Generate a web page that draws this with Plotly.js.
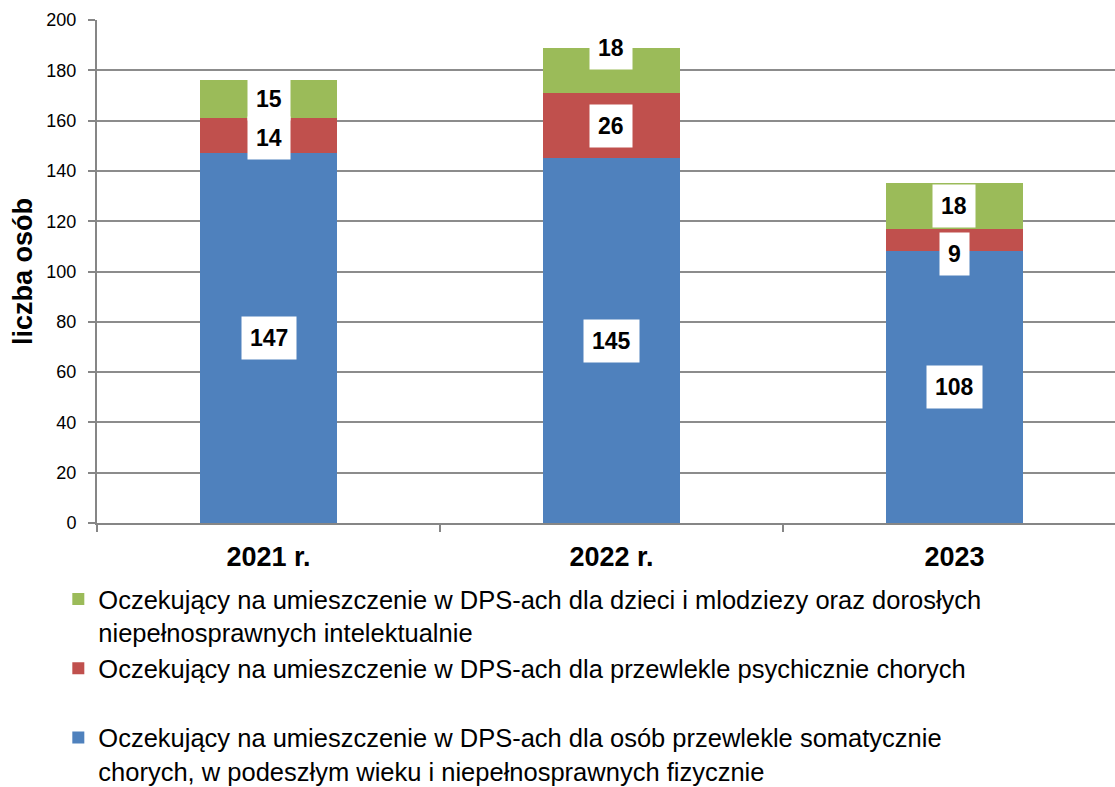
<!DOCTYPE html>
<html>
<head>
<meta charset="utf-8">
<script src="https://cdn.plot.ly/plotly-3.0.1.min.js"></script>
<style>html,body{margin:0;padding:0;background:#fff;}#chart{width:1115px;height:787px;}</style>
</head>
<body>
<div id="chart"></div>
<script>
// ---- data ----
const categories = ["2021 r.", "2022 r.", "2023"];
const somatyczni = [147, 145, 108];
const psychiczni = [14, 26, 9];
const intelektualni = [15, 18, 18];
const seriesNames = [
  "Oczekujący na umieszczenie w DPS-ach dla osób przewlekle somatycznie<br>chorych, w podeszłym wieku i niepełnosprawnych fizycznie",
  "Oczekujący na umieszczenie w DPS-ach dla przewlekle psychicznie chorych<br>\u00a0",
  "Oczekujący na umieszczenie w DPS-ach dla dzieci i mlodziezy oraz dorosłych<br>niepełnosprawnych intelektualnie"
];
const yTickVals = [0, 20, 40, 60, 80, 100, 120, 140, 160, 180, 200];
const yTitle = "liczba osób";

// ---- styles ----
const colors = ["#4F81BD", "#C0504D", "#9BBB59"];
const seriesData = [somatyczni, psychiczni, intelektualni];
const FONT = "Liberation Sans, Arial, sans-serif";

const traces = seriesData.map((vals, i) => ({
  type: "bar",
  x: categories,
  y: vals,
  name: seriesNames[i],
  marker: {color: colors[i], line: {width: 0}},
  width: 0.4,
  hoverinfo: "x+y"
}));

// label annotations centered in each segment (small visual nudges as in original)
const nudges = {"2-1": 22, "1-2": -14, "1-0": -2};
const annotations = [];
categories.forEach((cat, ci) => {
  let base = 0;
  seriesData.forEach((vals, si) => {
    const v = vals[ci];
    annotations.push({
      x: ci, y: base + v / 2, xref: "x", yref: "y",
      text: "<b>" + v + "</b>", showarrow: false,
      bgcolor: "#ffffff", borderpad: 8,
      font: {family: FONT, size: 23, color: "#000"},
      yshift: nudges[si + "-" + ci] || 0
    });
    base += v;
  });
});

const layout = {
  width: 1115, height: 787,
  margin: {l: 97, r: 0, t: 20, b: 264, autoexpand: false},
  paper_bgcolor: "#fff", plot_bgcolor: "#fff",
  barmode: "stack",
  showlegend: true,
  font: {family: FONT, color: "#000"},
  xaxis: {
    type: "category",
    range: [-0.5, 2.468],
    tickson: "boundaries",
    ticks: "outside", ticklen: 7, tickcolor: "#868686", tickwidth: 2,
    showline: true, linecolor: "#868686", linewidth: 2,
    showgrid: false, zeroline: false,
    tickfont: {family: FONT, size: 27, color: "#000", weight: "bold"},
    ticklabelstandoff: 9,
    automargin: false,
    fixedrange: true
  },
  yaxis: {
    range: [0, 200],
    tickvals: yTickVals,
    ticks: "outside", ticklen: 7, tickcolor: "#868686", tickwidth: 2,
    showline: true, linecolor: "#868686", linewidth: 2,
    showgrid: true, gridcolor: "#8c8c8c", gridwidth: 2,
    zeroline: false,
    tickfont: {family: FONT, size: 18, color: "#000"},
    ticklabelstandoff: 8,
    automargin: false,
    title: {text: yTitle, font: {family: FONT, size: 27, color: "#000", weight: "bold"}, standoff: 6},
    fixedrange: true
  },
  legend: {
    x: -0.038, xanchor: "left",
    y: -0.105, yanchor: "top",
    traceorder: "reversed",
    valign: "top",
    font: {family: FONT, size: 25.5, color: "#000"},
    bgcolor: "rgba(0,0,0,0)"
  },
  annotations: annotations
};

Plotly.newPlot("chart", traces, layout, {displayModeBar: false, staticPlot: true});
</script>
</body>
</html>
